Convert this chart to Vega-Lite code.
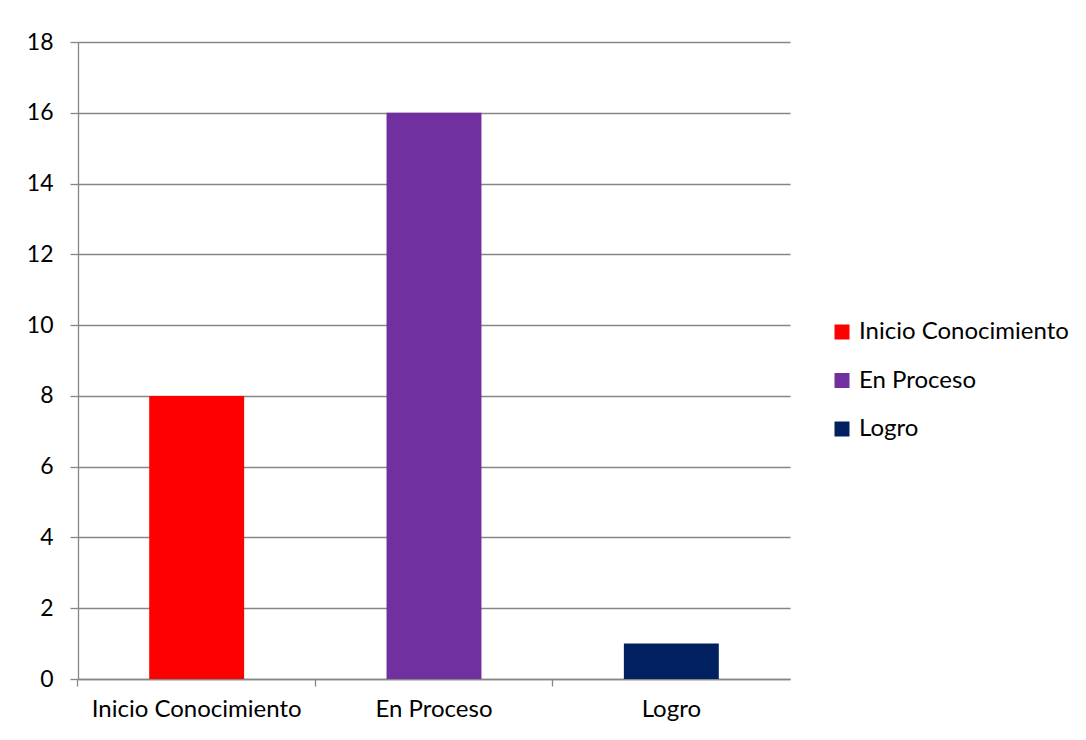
{
  "$schema": "https://vega.github.io/schema/vega-lite/v6.json",
  "autosize": {"type": "none"},
  "width": 712,
  "height": 637,
  "padding": {"left": 78, "top": 42, "right": 296, "bottom": 61},
  "background": "white",
  "config": {
    "view": {"stroke": null},
    "font": "Lato",
    "axis": {
      "labelFont": "Lato",
      "labelFontSize": 24,
      "labelColor": "#000000",
      "labelLimit": 0,
      "domainColor": "#868686",
      "tickColor": "#868686",
      "gridColor": "#868686",
      "domainWidth": 1.3,
      "tickWidth": 1.3,
      "gridWidth": 1.3,
      "title": null
    },
    "legend": {
      "labelFont": "Lato",
      "labelFontSize": 24,
      "labelColor": "#000000",
      "labelLimit": 0
    }
  },
  "data": {
    "values": [
      {"categoria": "Inicio Conocimiento", "valor": 8},
      {"categoria": "En Proceso", "valor": 16},
      {"categoria": "Logro", "valor": 1}
    ]
  },
  "mark": {"type": "bar"},
  "encoding": {
    "x": {
      "field": "categoria",
      "type": "nominal",
      "sort": null,
      "scale": {"paddingInner": 0.6, "paddingOuter": 0.3},
      "axis": {
        "labelAngle": 0,
        "bandPosition": -0.75,
        "tickSize": 7,
        "labelPadding": 11,
        "grid": false
      }
    },
    "y": {
      "field": "valor",
      "type": "quantitative",
      "scale": {"domain": [0, 18]},
      "axis": {
        "values": [0, 2, 4, 6, 8, 10, 12, 14, 16, 18],
        "tickSize": 8,
        "labelPadding": 17,
        "labelFontSize": 23,
        "grid": true
      }
    },
    "color": {
      "field": "categoria",
      "type": "nominal",
      "sort": null,
      "scale": {
        "domain": ["Inicio Conocimiento", "En Proceso", "Logro"],
        "range": ["#FF0000", "#7030A0", "#002060"]
      },
      "legend": {
        "title": null,
        "orient": "none",
        "legendX": 752,
        "legendY": 278,
        "symbolType": "square",
        "symbolSize": 225,
        "symbolStrokeWidth": 0,
        "labelOffset": 5,
        "rowPadding": 24.5
      }
    }
  }
}
